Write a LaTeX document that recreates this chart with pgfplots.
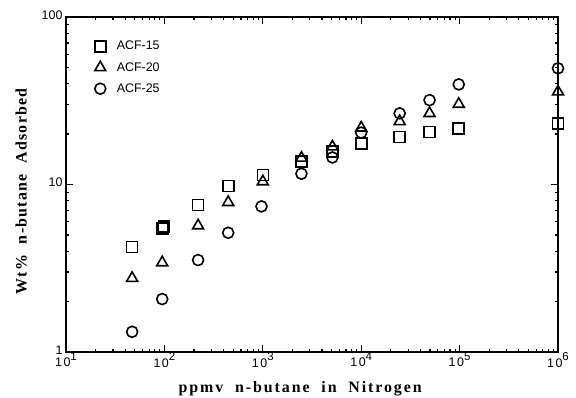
\documentclass[border=0pt]{standalone}
\usepackage{fontspec}
\setmainfont{Liberation Serif}
\setsansfont{Liberation Sans}
\usepackage{pgfplots}
\pgfplotsset{compat=1.18}
\newcommand{\sq}[1]{\raisebox{6.5bp}{\fontsize{11.5}{11.5}\selectfont #1}}
\newcommand{\ten}{1\hspace{1.5bp}0}
\begin{document}
\begin{tikzpicture}
\begin{axis}[
  scale only axis, width=492bp, height=335bp,
  at={(0,0)}, anchor=south west,
  xmode=log, ymode=log, xmin=10, xmax=1e6, ymin=1, ymax=100,
  clip=false,
  axis line style={line width=1.6bp},
  tick style={line width=1.2bp, black},
  major tick length=7bp, minor tick length=3.5bp,
  tick align=inside,
  xtick={10,100,1000,10000,100000,1000000},
  xticklabels={\ten\sq{1},\ten\sq{2},\ten\sq{3},\ten\sq{4},\ten\sq{5},\ten\sq{6}},
  ytick={1,10,100}, yticklabels={1,10,100},
  /pgf/number format/assume math mode=true,
  ticklabel style={font=\sffamily\fontsize{12.5}{13}\selectfont},
  xticklabel style={yshift=3bp},
  yticklabel style={xshift=0bp, yshift=2bp},
  xlabel={\addfontfeature{LetterSpace=12}\bfseries ppmv\ \ n-butane\ \ in\ \ Nitrogen},
  ylabel={\addfontfeature{LetterSpace=8}\bfseries Wt\%\ \ n-butane\ \ Adsorbed},
  xlabel style={at={(axis description cs:0.476,0)}, anchor=base, yshift=-40bp, font=\fontsize{16}{16}\selectfont},
  ylabel style={at={(axis description cs:-0.08,0.48)}, anchor=base, font=\fontsize{16}{16}\selectfont},
  legend image code/.code={\draw[#1] plot coordinates {(0bp,0bp)};},
  legend style={draw=none, fill=none, at={(axis description cs:0.052,0.94)}, anchor=north west,
    font=\sffamily\fontsize{12.5}{12.5}\selectfont, row sep=7bp, column sep=9bp},
  legend cell align=left,
]
\addplot[only marks, mark=square, mark size=5.5bp, mark options={line width=1.6bp, solid}] coordinates {
(47,4.24) (96,5.45) (99,5.6) (220,7.55) (445,9.8) (1000,11.4) (2470,13.7) (5100,15.7) (10000,17.6) (24600,19.2) (49500,20.6) (98000,21.6) (1000000,23.2)};
\addlegendentry{ACF-15}
\addplot[only marks, mark=triangle, mark size=6.3bp, mark options={line width=1.6bp, solid}] coordinates {
(47,2.76) (95,3.42) (220,5.68) (445,7.83) (1000,10.4) (2470,14.4) (5100,16.8) (10000,21.8) (24600,23.8) (49500,26.6) (98000,30.2) (1000000,35.8)};
\addlegendentry{ACF-20}
\addplot[only marks, mark=o, mark size=5.5bp, mark options={line width=1.6bp, solid}] coordinates {
(47,1.32) (95,2.07) (220,3.54) (445,5.15) (970,7.4) (2470,11.6) (5100,14.5) (10000,20.4) (24600,26.6) (49500,31.9) (98000,39.6) (1000000,49.4)};
\addlegendentry{ACF-25}
\end{axis}
\pgfresetboundingbox
\path[use as bounding box] (-66bp,-46bp) rectangle (510bp,352bp);
\end{tikzpicture}
\end{document}
